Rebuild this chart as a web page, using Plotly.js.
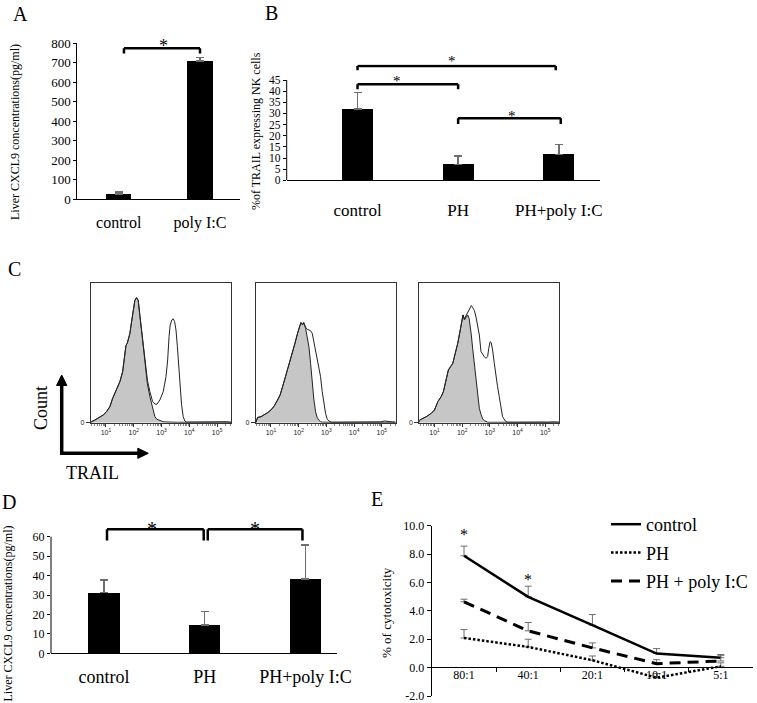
<!DOCTYPE html>
<html><head><meta charset="utf-8">
<script src="https://cdn.plot.ly/plotly-3.0.1.min.js"></script>
<style>html,body{margin:0;padding:0;background:#fff;}#chart{width:757px;height:703px;}</style>
</head><body><div id="chart"></div>
<script>
// ---------------- data ----------------
// Panel A
const cxclCats = ['control', 'poly I:C'];
const cxclVals = [25, 708];
const cxclErr = [10, 18];
// Panel B
const trailCats = ['control', 'PH', 'PH+poly I:C'];
const trailVals = [32, 7.2, 11.6];
const trailErr = [7.4, 3.6, 4.4];
// Panel D
const cxcl2Cats = ['control', 'PH', 'PH+poly I:C'];
const cxcl2Vals = [31.2, 14.6, 38.2];
const cxcl2Err = [6.5, 6.8, 17.5];
// Panel E
const ratioCats = ['80:1', '40:1', '20:1', '10:1', '5:1'];
const seriesNames = ['control', 'PH', 'PH + poly I:C'];
const cytoControl = [7.88, 4.99, 2.99, 0.99, 0.70];
const cytoControlErr = [0.68, 0.75, 0.75, 0.35, 0.22];
const cytoPH = [2.09, 1.46, 0.52, -0.71, 0.09];
const cytoPHErr = [0.59, 0.54, 0.30, 0.29, 0.25];
const cytoPHpoly = [4.64, 2.59, 1.39, 0.28, 0.47];
const cytoPHpolyErr = [0.18, 0.59, 0.35, 0.28, 0.40];
const cytoTicks = [-2, 0, 2, 4, 6, 8, 10];
// Panel C (flow histograms: log10 intensity, % of max count)
const flowTickVals = [10, 100, 1000, 10000, 100000];
const flowTickText = ['10<sup>1</sup>', '10<sup>2</sup>', '10<sup>3</sup>', '10<sup>4</sup>', '10<sup>5</sup>'];
const h1Log = [0.45,0.48,0.60,0.78,0.90,1.02,1.14,1.24,1.32,1.44,1.50,1.60,1.66,1.72,1.77,1.86,1.92,1.98,2.04,2.10,2.16,2.22,2.28,2.34,2.42,2.49,2.58,2.68,2.76,2.83,2.94,3.06,3.16,3.22,3.27,3.31,3.37,3.42,3.47,3.52,3.57,3.62,3.67,3.72,3.78,3.84,3.90,4.20,4.60,5.00,5.20,5.35,5.50];
const h1Grey = [0,0.7,1.9,3.8,5.5,7.9,11.5,17.5,21,25.8,29.4,36.6,45,55.5,57.2,64,72.2,80.6,87.8,89.7,87.8,77,66,54,40,28,18.7,10.3,4.3,2.5,1.6,0.7,0.5,0.4,0.4,0.3,0.3,0.3,0.3,0.3,0.3,0.3,0.3,0.3,0.3,0.3,0.3,0.3,0.3,0.3,0.3,0.3,0.3];
const h1Open = [0,0.7,1.9,3.8,5.5,7.9,11.5,17.5,21,25.8,29.4,36.6,45,55.5,57.2,64,72.2,80.6,87.8,89.7,87.8,77,66,54.5,39,30.6,22.2,15.1,13.4,13.2,16.3,22.2,33,45,61.7,70,73.7,74.6,72.5,66.5,54.5,40,26,12.9,4.3,1.2,0.4,0.4,0.6,0.4,0.9,0.7,0.3];
const h2Log = [0.45,0.52,0.64,0.76,0.88,1.00,1.12,1.24,1.33,1.42,1.50,1.60,1.68,1.78,1.86,1.96,2.03,2.08,2.14,2.18,2.25,2.31,2.37,2.43,2.49,2.55,2.61,2.67,2.73,2.79,2.85,2.91,2.97,3.03,3.13,3.21,3.60,3.95,4.10,4.30,4.70,4.95,5.10,5.25,5.40,5.50];
const h2Grey = [0,3.8,4.3,5.5,7.2,9.1,12,16.3,19.9,25.8,31.1,37.8,43.8,49.8,56.5,64.1,69.4,71.8,70.1,71.8,67.7,61,54.5,42.6,28.2,16.3,7.9,3.5,1.8,0.7,0.4,0.3,0.3,0.3,0.3,0.3,0.3,0.3,0.3,0.3,0.3,0.3,0.3,0.3,0.3,0.3];
const h2Open = [0,3.8,4.3,5.5,7.2,9.1,12,16.3,19.9,25.8,31.1,37.8,43.8,49.8,56.5,64.1,69.4,71.8,70.5,71.8,68.5,67,66.5,66,64.1,58.1,49.8,45.5,40.2,33,22.2,12.7,6.7,2.4,0.7,0.3,0.3,0.5,0.8,0.4,0.3,0.6,1.2,1.0,0.5,0.3];
const h3Log = [0.43,0.46,0.58,0.70,0.88,1.00,1.12,1.24,1.32,1.42,1.50,1.58,1.66,1.75,1.84,1.93,1.98,2.03,2.08,2.14,2.20,2.25,2.29,2.33,2.38,2.44,2.50,2.56,2.62,2.68,2.74,2.80,2.86,2.92,2.96,3.01,3.05,3.10,3.16,3.22,3.28,3.34,3.40,3.46,3.56,3.64,4.00,4.30,4.60,4.90,5.10,5.30,5.50];
const h3Grey = [0,1.9,3.1,4.3,6.7,9.1,15.1,18.7,22.2,30.6,37.8,40.2,42.6,49.8,56.9,66.5,71.3,77.3,73.7,76.1,77.3,74.9,70,63,53,41,30,18,10.3,6,2.8,1.5,0.7,0.4,0.3,0.3,0.3,0.3,0.3,0.3,0.3,0.3,0.3,0.3,0.3,0.3,0.3,0.3,0.3,0.3,0.3,0.3,0.3];
const h3Open = [0,1.9,3.1,4.3,6.7,9.1,15.1,18.7,22.2,30.6,37.8,40.2,42.6,49.8,56.9,66.5,71.3,77.3,74.5,77,78.5,80.6,83,84,82.5,80.6,75.8,68.9,62.9,51,48.6,47.4,46.2,47.4,53.3,58.1,57.4,52.2,42.6,33,25.8,18.7,10.3,4.3,1.2,0.3,0.3,0.5,0.6,0.4,0.3,0.6,0.3];

// ---------------- helpers ----------------
const W = 757, H = 703;
const px = v => v / W;
const py = v => 1 - v / H;
const serif = '"Liberation Serif", "Times New Roman", Times, serif';
const sans = '"Liberation Sans", Arial, sans-serif';
const ERR = '#6e6e6e';

function errY(arr, w, th) {
  return {type: 'data', symmetric: false, array: arr, arrayminus: arr.map(() => 0),
          color: ERR, thickness: th, width: w};
}
function barTrace(cats, vals, errs, xa, ya) {
  return {type: 'bar', x: cats, y: vals, xaxis: xa, yaxis: ya, width: 0.31,
          marker: {color: '#000'}, error_y: errY(errs, 4, 1.5), showlegend: false, hoverinfo: 'none'};
}
function histTraces(logs, grey, open, xa, ya) {
  const xs = logs.map(v => Math.pow(10, v));
  return [
    {type: 'scatter', mode: 'lines', x: xs, y: grey, xaxis: xa, yaxis: ya, fill: 'tozeroy',
     fillcolor: '#c6c6c6', line: {color: '#222', width: 1}, showlegend: false, hoverinfo: 'none'},
    {type: 'scatter', mode: 'lines', x: xs, y: open, xaxis: xa, yaxis: ya,
     line: {color: '#222', width: 1}, showlegend: false, hoverinfo: 'none'}
  ];
}
function lineTrace(vals, errs, name, dash, width) {
  return {type: 'scatter', mode: 'lines', x: ratioCats, y: vals, name: name, legendgroup: name,
          xaxis: 'x4', yaxis: 'y4', line: {color: '#000', width: width, dash: dash},
          error_y: errY(errs, 3.5, 1), hoverinfo: 'none'};
}

const data = [
  barTrace(cxclCats, cxclVals, cxclErr, 'x', 'y'),
  barTrace(trailCats, trailVals, trailErr, 'x2', 'y2'),
  barTrace(cxcl2Cats, cxcl2Vals, cxcl2Err, 'x3', 'y3'),
  lineTrace(cytoControl, cytoControlErr, seriesNames[0], 'solid', 2.5),
  lineTrace(cytoPH, cytoPHErr, seriesNames[1], '2.5px,2px', 2.5),
  lineTrace(cytoPHpoly, cytoPHpolyErr, seriesNames[2], '11px,7px', 3),
  ...histTraces(h1Log, h1Grey, h1Open, 'x5', 'y5'),
  ...histTraces(h2Log, h2Grey, h2Open, 'x6', 'y6'),
  ...histTraces(h3Log, h3Grey, h3Open, 'x7', 'y7')
];

// ---------------- axes ----------------
const baseAx = {showgrid: false, zeroline: false, showline: true, linecolor: '#000', linewidth: 1,
                fixedrange: true, tickcolor: '#000'};
function catX(dom, anchor, range, fs, standoff) {
  return Object.assign({}, baseAx, {domain: dom, anchor: anchor, type: 'category', range: range,
    ticks: '', tickfont: {family: serif, size: fs, color: '#000'}, ticklabelstandoff: standoff});
}
function valY(dom, anchor, range, tickvals, fs, showline) {
  return Object.assign({}, baseAx, {domain: dom, anchor: anchor, range: range, tickmode: 'array',
    tickvals: tickvals, ticks: 'outside', ticklen: 3, showline: showline, ticklabeloverflow: 'allow',
    tickfont: {family: serif, size: fs, color: '#000'}});
}
function flowX(dom, anchor) {
  return Object.assign({}, baseAx, {domain: dom, anchor: anchor, type: 'log', range: [0.45, 5.5],
    mirror: true, linecolor: '#333', tickmode: 'array', tickvals: flowTickVals, ticktext: flowTickText,
    ticks: 'outside', ticklen: 3, tickcolor: '#333', tickfont: {family: sans, size: 7, color: '#222'},
    minor: {ticks: 'outside', ticklen: 2, dtick: 'D1', tickcolor: '#555', tickwidth: 0.7}});
}
function flowY(anchor) {
  return Object.assign({}, baseAx, {domain: [py(422.7), py(283.3)], anchor: anchor, range: [0, 100],
    mirror: true, linecolor: '#333', tickmode: 'array', tickvals: [0], ticktext: ['0'],
    ticks: 'outside', ticklen: 4, tickcolor: '#333', tickfont: {family: sans, size: 7, color: '#222'}});
}

const layout = {
  width: W, height: H, margin: {l: 0, r: 0, t: 0, b: 0},
  paper_bgcolor: '#fff', plot_bgcolor: 'rgba(0,0,0,0)', bargap: 0,
  font: {family: serif, color: '#000'},
  showlegend: true,
  legend: {x: px(606), y: py(506), xanchor: 'left', yanchor: 'top', bgcolor: 'rgba(0,0,0,0)',
           font: {family: serif, size: 18, color: '#000'}, traceorder: 'grouped', tracegroupgap: 2},
  xaxis: catX([px(77.3), px(240)], 'y', [-0.509, 1.492], 16, 9),
  yaxis: valY([py(199), py(43.3)], 'x', [0, 800], [0,100,200,300,400,500,600,700,800], 13, true),
  xaxis2: catX([px(286.7), px(600)], 'y2', [-0.704, 2.41], 17, 14),
  yaxis2: valY([py(180.3), py(64.4)], 'x2', [0, 52], [0,5,10,15,20,25,30,35,40,45], 11.5, false),
  xaxis3: catX([px(51), px(337)], 'y3', [-0.526, 2.313], 18, 7),
  yaxis3: valY([py(653.3), py(525.05)], 'x3', [0, 66], [0,10,20,30,40,50,60], 12, false),
  xaxis4: Object.assign(catX([px(431.7), px(752.8)], 'free', [-0.503, 4.498], 12, -4),
                        {position: py(667.3), ticks: 'outside', ticklen: 4, tickson: 'boundaries'}),
  yaxis4: Object.assign(valY([py(696), py(525.7)], 'x4', [-2, 10], cytoTicks, 12, true),
                        {ticktext: cytoTicks.map(v => v.toFixed(1)), ticklen: 4}),
  xaxis5: flowX([px(90.7), px(231)], 'y5'), yaxis5: flowY('x5'),
  xaxis6: flowX([px(255.7), px(395.7)], 'y6'), yaxis6: flowY('x6'),
  xaxis7: flowX([px(419.3), px(559)], 'y7'), yaxis7: flowY('x7'),
  shapes: [], annotations: []
};

// axis lines that stop at the top tick (B, D)
layout.shapes.push({type: 'line', xref: 'x2 domain', yref: 'y2', x0: 0, x1: 0, y0: 0, y1: 45, line: {color: '#000', width: 1}});
layout.shapes.push({type: 'line', xref: 'x3 domain', yref: 'y3', x0: 0, x1: 0, y0: 0, y1: 60, line: {color: '#000', width: 1}});

// significance brackets
function bracket(xa, ya, x0, x1, yTop, yLeg, w) {
  const ln = {color: '#000', width: w};
  layout.shapes.push({type: 'line', xref: xa, yref: ya, x0: x0, x1: x1, y0: yTop, y1: yTop, line: ln});
  layout.shapes.push({type: 'line', xref: xa, yref: ya, x0: x0, x1: x0, y0: yTop, y1: yLeg, line: ln});
  layout.shapes.push({type: 'line', xref: xa, yref: ya, x0: x1, x1: x1, y0: yTop, y1: yLeg, line: ln});
}
bracket('x', 'y', 0.065, 1.0, 775, 748, 2.5);
bracket('x2', 'y2', 0, 1.97, 51.3, 49.4, 2.5);
bracket('x2', 'y2', 0, 1.0, 43.1, 40.9, 2.5);
bracket('x2', 'y2', 1.0, 2.02, 27.8, 25.3, 2.5);
bracket('x3', 'y3', 0.03, 0.99, 63.8, 58, 2.5);
bracket('x3', 'y3', 1.03, 1.97, 63.8, 58, 2.5);

function star(xa, x, ycPx, fs) {
  layout.annotations.push({xref: xa, yref: 'paper', x: x, y: py(ycPx + 0.2 * fs), text: '*',
    showarrow: false, xanchor: 'center', yanchor: 'middle', font: {family: serif, size: fs, color: '#000'}});
}
star('x', 0.55, 42.5, 18);
star('x2', 0.94, 57.5, 15);
star('x2', 0.39, 77.5, 15);
star('x2', 1.54, 113, 15);
star('x3', 0.48, 525, 20);
star('x3', 1.5, 525, 20);
star('x4', 0, 531.7, 16);
star('x4', 1, 576, 16);

function text(t, xPx, yPx, fs, angle) {
  layout.annotations.push({xref: 'paper', yref: 'paper', x: px(xPx), y: py(yPx), text: t, showarrow: false,
    xanchor: 'center', yanchor: 'middle', textangle: angle || 0, font: {family: serif, size: fs, color: '#000'}});
}
// panel letters
text('A', 20.5, 14, 20);
text('B', 271, 13, 20);
text('C', 14, 269, 20);
text('D', 8.5, 502, 20);
text('E', 377, 499, 20);
// axis titles
text('Liver CXCL9 concentrations(pg/ml)', 15, 132, 12, -90);
text('%of TRAIL expressing NK cells', 256, 131, 12, -90);
text('Liver CXCL9 concentrations(pg/ml)', 7.5, 614, 12, -90);
text('% of cytotoxicity', 386, 612, 13, -90);
text('Count', 41, 408, 18, -90);
text('TRAIL', 92, 473, 18);

// Count / TRAIL arrows
function pline(x0, y0, x1, y1, w) {
  layout.shapes.push({type: 'line', xref: 'paper', yref: 'paper', x0: px(x0), y0: py(y0), x1: px(x1), y1: py(y1),
    line: {color: '#000', width: w}});
}
function tri(pts) {
  const d = 'M' + pts.map(p => px(p[0]) + ',' + py(p[1])).join(' L') + ' Z';
  layout.shapes.push({type: 'path', xref: 'paper', yref: 'paper', path: d, fillcolor: '#000', line: {color: '#000', width: 1}});
}
pline(61.7, 455, 61.7, 383, 3.5);
tri([[61.7, 375], [56.5, 385.5], [66.9, 385.5]]);
pline(60, 453.3, 140, 453.3, 3.5);
tri([[148.3, 453.3], [137.8, 448.2], [137.8, 458.4]]);

Plotly.newPlot('chart', data, layout, {staticPlot: true, displayModeBar: false});
</script>
</body></html>
